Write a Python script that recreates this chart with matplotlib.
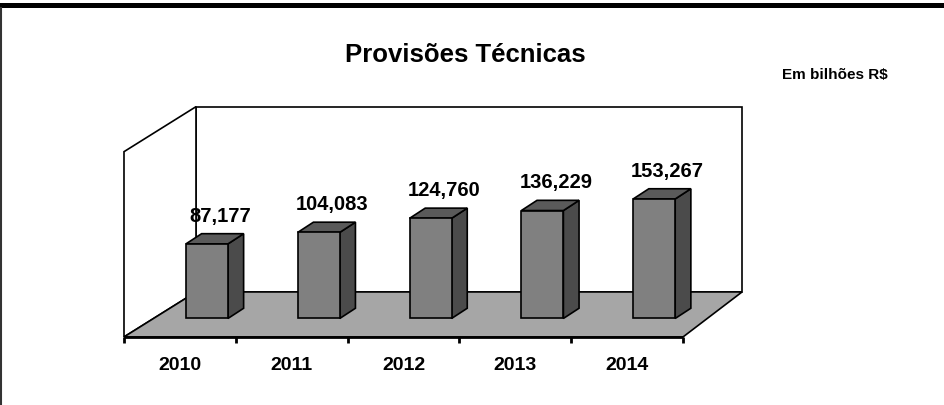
import matplotlib
matplotlib.use("Agg")
import matplotlib.pyplot as plt
from matplotlib.patches import Polygon, Rectangle
from matplotlib.lines import Line2D

years = ["2010", "2011", "2012", "2013", "2014"]
values = [87.177, 104.083, 124.760, 136.229, 153.267]
value_labels = ["87,177", "104,083", "124,760", "136,229", "153,267"]

# pseudo-3D geometry (data units: x = category, y = value)
FLOOR = -22.5        # value where the floor front edge sits
WALL_TOP = 250
DEPTH_XL, DEPTH_XR, DEPTH_Y = 0.644, 0.528, 66.2
BAR_W = 0.376
BAR_OFF_X, BAR_OFF_Y = 0.242, 27.2     # bar front face pushed into depth
BAR_DX, BAR_DY = 0.140, 15.0           # bar thickness

plt.rcParams["font.family"] = ["Liberation Sans", "DejaVu Sans"]
plt.rcParams["font.weight"] = "bold"

fig = plt.figure(figsize=(9.45, 4.05), dpi=100)
ax = fig.add_axes([0, 0, 1, 1])
ax.set_xlim(-1.609, 6.843)
ax.set_ylim(-122.6, 473.1)
ax.axis("off")

n = len(values)
x0, x1 = -0.5, n - 0.5
bl = (x0 + DEPTH_XL, FLOOR + DEPTH_Y)
br = (x1 + DEPTH_XR, FLOOR + DEPTH_Y)

# back wall and side wall
ax.add_patch(Polygon([bl, br, (br[0], WALL_TOP + DEPTH_Y), (bl[0], WALL_TOP + DEPTH_Y)],
                     closed=True, facecolor="white", edgecolor="black", lw=1.2, zorder=1))
ax.add_patch(Polygon([(x0, FLOOR), bl, (bl[0], WALL_TOP + DEPTH_Y), (x0, WALL_TOP)],
                     closed=True, facecolor="white", edgecolor="black", lw=1.2, zorder=1))
# floor
ax.add_patch(Polygon([(x0, FLOOR), (x1, FLOOR), br, bl],
                     closed=True, facecolor="#a6a6a6", edgecolor="black", lw=1.2, zorder=2))

for i, v in enumerate(values):
    left = i - BAR_W / 2 + BAR_OFF_X
    right = left + BAR_W
    bot = FLOOR + BAR_OFF_Y
    top = v + BAR_OFF_Y
    front = [(left, bot), (right, bot), (right, top), (left, top)]
    side = [(right, bot), (right + BAR_DX, bot + BAR_DY), (right + BAR_DX, top + BAR_DY), (right, top)]
    lid = [(left, top), (right, top), (right + BAR_DX, top + BAR_DY), (left + BAR_DX, top + BAR_DY)]
    ax.add_patch(Polygon(side, closed=True, facecolor="#4b4b4b", edgecolor="black", lw=1.2, zorder=3))
    ax.add_patch(Polygon(lid, closed=True, facecolor="#5a5a5a", edgecolor="black", lw=1.2, zorder=3))
    ax.add_patch(Polygon(front, closed=True, facecolor="#808080", edgecolor="black", lw=1.2, zorder=4))
    ax.text(left + BAR_W / 2 + 0.12, top + BAR_DY + 26, value_labels[i],
            ha="center", va="center", fontsize=14.5, fontweight="bold", zorder=5)
    ax.text(i, -64, years[i], ha="center", va="center", fontsize=14, fontweight="bold")

# category axis line and ticks
ax.plot([x0, x1], [FLOOR, FLOOR], color="black", lw=2, zorder=5, solid_capstyle="butt")
ax.vlines([k - 0.5 for k in range(n + 1)], FLOOR - 8.8, FLOOR, color="black", lw=2, zorder=5)

fig.text(0.492, 1 - 55 / 405, "Provisões Técnicas", ha="center", va="center",
         fontsize=18.5, fontweight="bold")
fig.text(835 / 945, 1 - 75 / 405, "Em bilhões R$", ha="center", va="center",
         fontsize=11, fontweight="bold")

# frame: thick top rule and thin left border
fig.add_artist(Rectangle((0, 1 - 8 / 405), 1, 5 / 405, transform=fig.transFigure,
                         facecolor="black", edgecolor="none"))
fig.add_artist(Line2D([1 / 945, 1 / 945], [0, 1 - 8 / 405], transform=fig.transFigure,
                      color="#333333", lw=1.5))

fig.savefig("out.png", dpi=100)
